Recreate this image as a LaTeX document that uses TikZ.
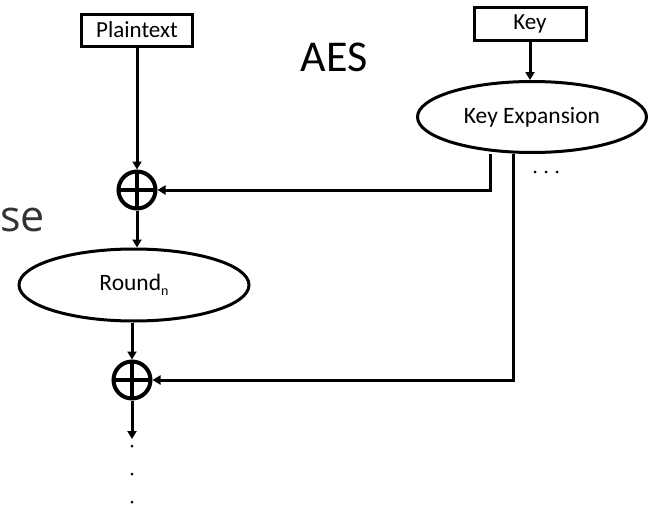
\documentclass[tikz,border=0pt]{standalone}
\usepackage{fontspec}
\setmainfont{Carlito}
\newfontfamily\sefont{Open Sans}
\usetikzlibrary{arrows.meta,shapes.geometric}
\tikzset{
  ln/.style={line width=3pt},
  arr/.style={ln,-{Triangle[length=8pt,width=9pt]}},
  boxnode/.style={draw,ln,rectangle,inner sep=0pt,font=\fontsize{23}{26}\selectfont},
  ovalnode/.style={draw,ln,ellipse,inner sep=0pt,font=\fontsize{23.5}{26}\selectfont},
  xornode/.style={draw,line width=4pt,circle,minimum size=37pt,inner sep=0pt,
    path picture={\draw[line width=4pt] (path picture bounding box.north) -- (path picture bounding box.south)
      (path picture bounding box.west) -- (path picture bounding box.east);}},
  dotnode/.style={fill,circle,inner sep=0pt,minimum size=3pt},
}
\begin{document}
\begin{tikzpicture}[x=1pt,y=-1pt]
\useasboundingbox (0,0) rectangle (648,506);
\node[font=\sefont\fontsize{43}{46}\selectfont,text=black!80,anchor=base west,inner sep=0pt] (se) at (0,231) {se};
\node[boxnode,minimum width=111pt,minimum height=32pt] (plain) at (137,30) {Plaintext};
\node[boxnode,minimum width=112pt,minimum height=33pt] (key) at (530,24) {Key};
\node[font=\fontsize{44}{48}\selectfont,inner sep=0pt] (aes) at (334,57) {AES};
\node[ovalnode,minimum width=229pt,minimum height=71pt] (kexp) at (532,117) {Key Expansion};
\node[xornode] (xor1) at (137,190) {};
\node[ovalnode,minimum width=230pt,minimum height=72pt] (round) at (134,285) {Round\raisebox{-5pt}{\fontsize{14}{14}\selectfont n}};
\node[xornode] (xor2) at (132,380) {};
\coordinate (down) at (132,439);
\node[dotnode] (d1) at (132,446) {};
\node[dotnode] (d2) at (132,474) {};
\node[dotnode] (d3) at (132,502) {};
\node[dotnode] (e1) at (535,172) {};
\node[dotnode] (e2) at (546,172) {};
\node[dotnode] (e3) at (557,172) {};
\draw[arr] (plain.south) -- (xor1.north);
\draw[arr] (xor1.south) -- (xor1.south |- round.north);
\draw[arr] (round.south -| xor2) -- (xor2.north);
\draw[arr] (xor2.south) -- (down);
\draw[arr] (key.south) -- (key.south |- kexp.north);
\draw[arr] ([xshift=-42pt]kexp.south) |- (xor1.east);
\draw[arr] ([xshift=-19pt]kexp.south) |- (xor2.east);
\end{tikzpicture}
\end{document}
